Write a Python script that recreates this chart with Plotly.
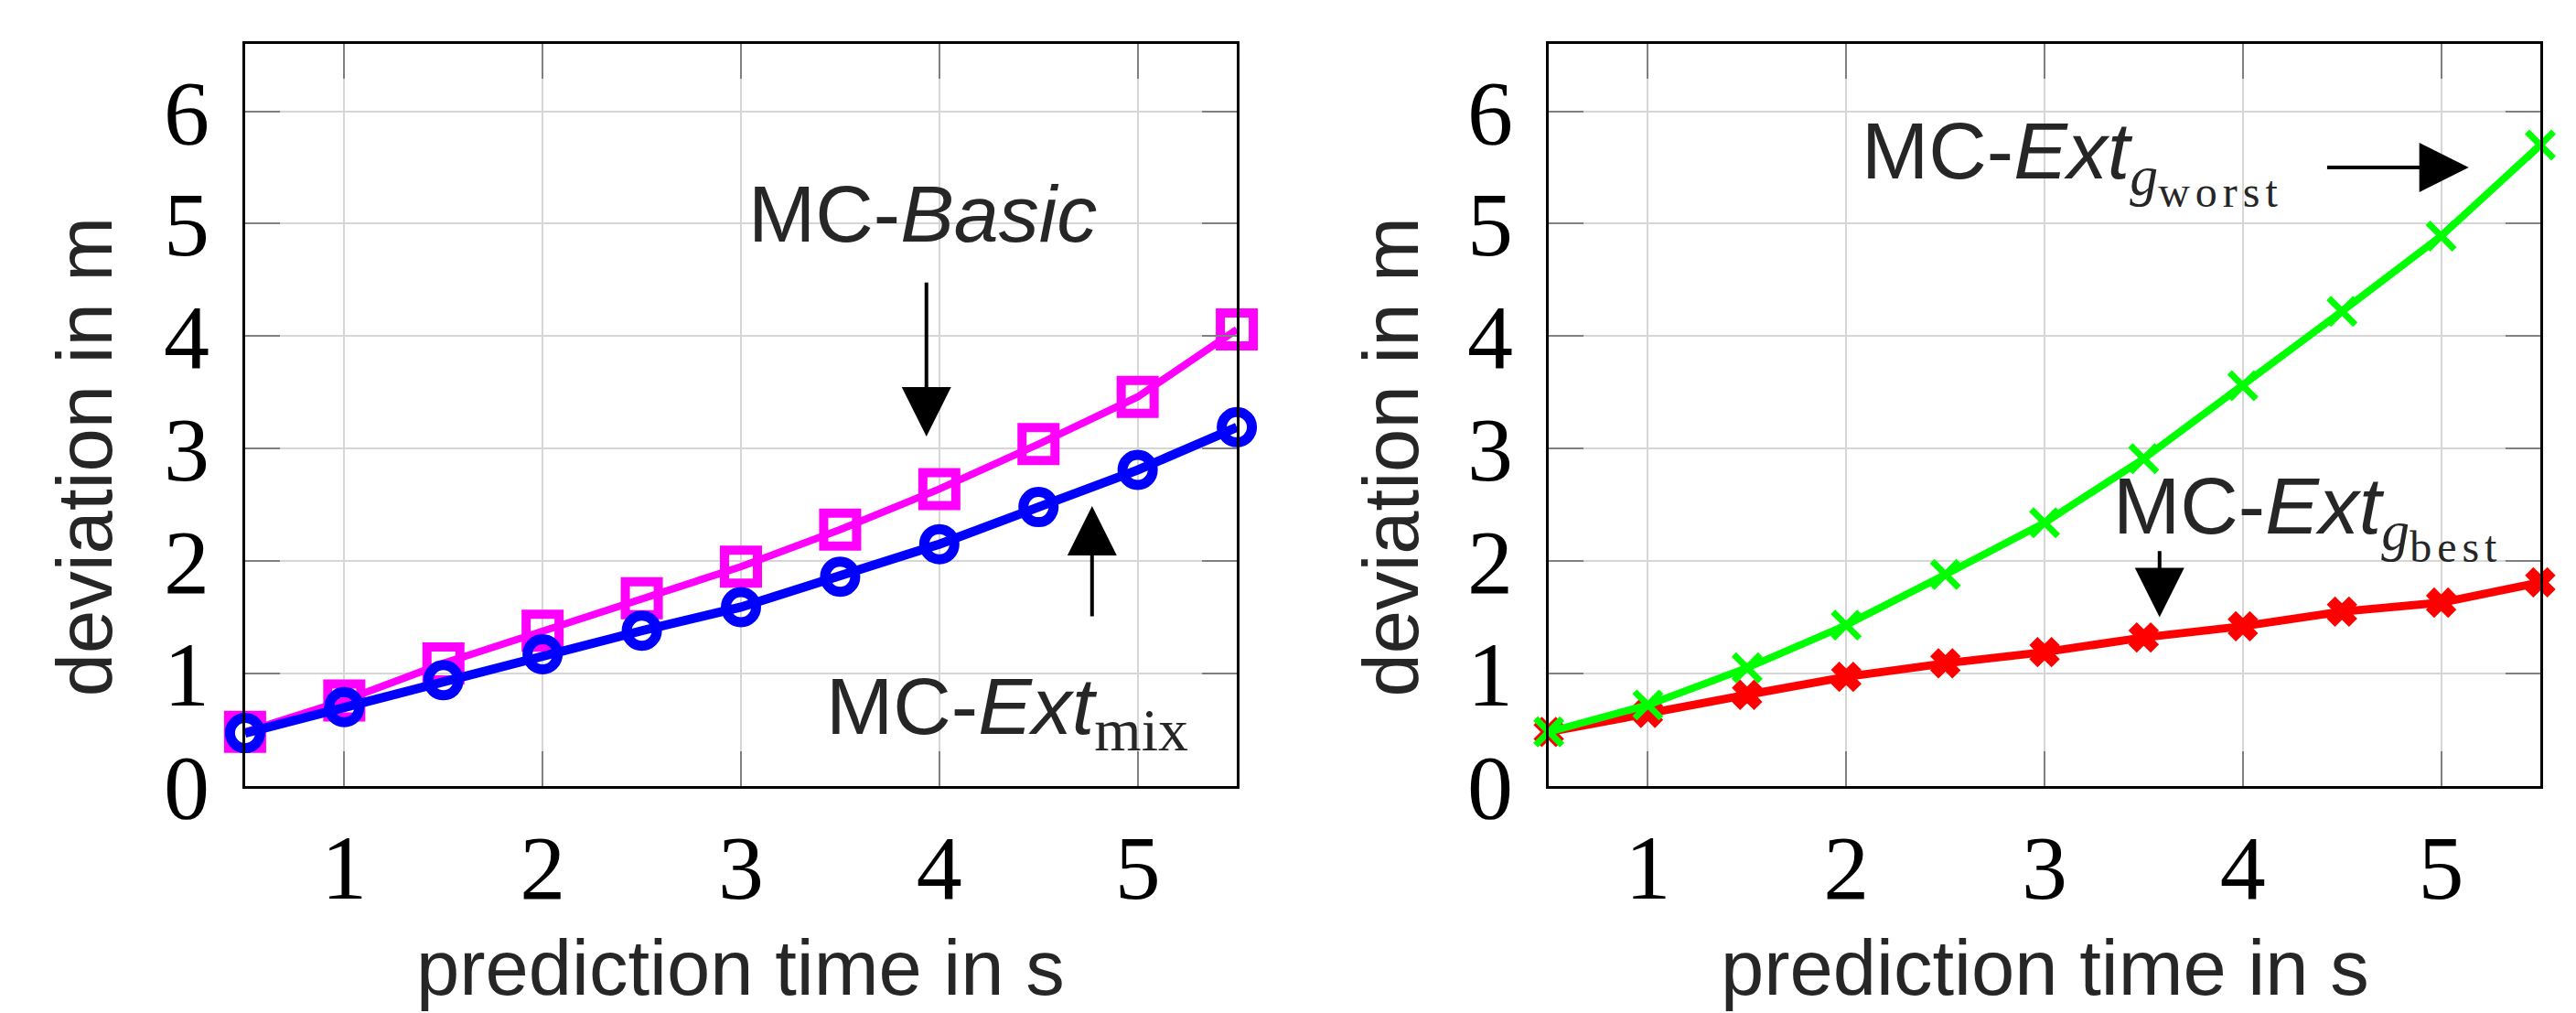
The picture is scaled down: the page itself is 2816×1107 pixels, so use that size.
import plotly.graph_objects as go

# ---------------- data ----------------
pred_time = [0.5, 1.0, 1.5, 2.0, 2.5, 3.0, 3.5, 4.0, 4.5, 5.0, 5.5]
mc_basic = [0.48, 0.76, 1.09, 1.38, 1.67, 1.95, 2.28, 2.64, 3.04, 3.46, 4.06]
mc_ext_mix = [0.47, 0.70, 0.94, 1.17, 1.38, 1.59, 1.86, 2.15, 2.48, 2.81, 3.19]
mc_ext_worst = [0.48, 0.72, 1.05, 1.43, 1.88, 2.34, 2.91, 3.56, 4.22, 4.89, 5.70]
mc_ext_best = [0.48, 0.65, 0.81, 0.97, 1.09, 1.19, 1.32, 1.42, 1.55, 1.63, 1.81]
x_ticks = [1, 2, 3, 4, 5]
y_ticks = [0, 1, 2, 3, 4, 5, 6]
x_title = "prediction time in s"
y_title = "deviation in m"

SANS = "Liberation Sans, Arial, Helvetica, sans-serif"
SERIF = "Liberation Serif, Times New Roman, serif"
TXT = "#262626"

fig = go.Figure()

# left panel
fig.add_trace(go.Scatter(x=pred_time, y=mc_basic, mode="lines+markers", xaxis="x", yaxis="y",
                         line=dict(color="#ff00ff", width=8),
                         marker=dict(symbol="square-open", size=36, color="#ff00ff",
                                     line=dict(width=10, color="#ff00ff")),
                         cliponaxis=False, showlegend=False))
fig.add_trace(go.Scatter(x=pred_time, y=mc_ext_mix, mode="lines+markers", xaxis="x", yaxis="y",
                         line=dict(color="#0000ff", width=10),
                         marker=dict(symbol="circle-open", size=33, color="#0000ff",
                                     line=dict(width=11, color="#0000ff")),
                         cliponaxis=False, showlegend=False))
# right panel
fig.add_trace(go.Scatter(x=pred_time, y=mc_ext_best, mode="lines+markers", xaxis="x2", yaxis="y2",
                         line=dict(color="#ff0000", width=9),
                         marker=dict(symbol="x", size=27, color="#ff0000",
                                     line=dict(width=2, color="#ff0000")),
                         cliponaxis=False, showlegend=False))
fig.add_trace(go.Scatter(x=pred_time, y=mc_ext_worst, mode="lines+markers", xaxis="x2", yaxis="y2",
                         line=dict(color="#00ff00", width=8),
                         marker=dict(symbol="x-thin-open", size=29, color="#00ff00",
                                     line=dict(width=7, color="#00ff00")),
                         cliponaxis=False, showlegend=False))

ax_common = dict(
    ticks="inside", ticklen=38, tickwidth=2, tickcolor="#808080",
    showgrid=True, gridcolor="#d6d6d6", gridwidth=2,
    showline=True, linecolor="black", linewidth=3, mirror="ticks",
    zeroline=False, tickfont=dict(family=SERIF, size=100, color="black"),
)

fig.update_layout(
    width=2816, height=1107,
    margin=dict(l=0, r=0, t=0, b=0),
    paper_bgcolor="white", plot_bgcolor="white",
    xaxis=dict(domain=[0.0923, 0.4773], range=[0.5, 5.5], tickvals=x_ticks,
               ticklabelstandoff=0, anchor="y", **ax_common),
    yaxis=dict(domain=[0.1897, 0.962], range=[0, 6.6], tickvals=y_ticks,
               ticklabelstandoff=16, anchor="x", **ax_common),
    xaxis2=dict(domain=[0.5984, 0.9833], range=[0.5, 5.5], tickvals=x_ticks,
                ticklabelstandoff=0, anchor="y2", **ax_common),
    yaxis2=dict(domain=[0.1897, 0.962], range=[0, 6.6], tickvals=y_ticks,
                ticklabelstandoff=16, anchor="x2", **ax_common),
)

annotations = []
# axis titles
for xc, yc_x in [(0.2848, 0.0298), (0.7909, 0.537)]:
    annotations.append(dict(xref="paper", yref="paper", x=xc, y=-0.047, yanchor="bottom",
                            xanchor="center", text=x_title, showarrow=False,
                            font=dict(family=SANS, size=85, color=TXT)))
    annotations.append(dict(xref="paper", yref="paper", x=yc_x, y=0.532, yanchor="middle",
                            xanchor="center", text=y_title, showarrow=False, textangle=-90,
                            font=dict(family=SANS, size=85, color=TXT)))

serif = "font-family:Liberation Serif"
small = "font-family:Liberation Serif;font-size:48px;letter-spacing:6px"
# left labels
annotations.append(dict(xref="x", yref="y", x=3.03, y=5.09, xanchor="left", yanchor="middle",
                        text="MC-<i>Basic</i>", showarrow=False,
                        font=dict(family=SANS, size=88, color=TXT)))
annotations.append(dict(xref="x", yref="y", x=3.42, y=0.66, xanchor="left", yanchor="middle",
                        text=f"MC-<i>Ext</i><sub><span style='{serif};font-size:66px'>mix</span></sub>",
                        showarrow=False, font=dict(family=SANS, size=88, color=TXT)))
# right labels
annotations.append(dict(xref="x2", yref="y2", x=2.07, y=5.56, xanchor="left", yanchor="middle",
                        text=f"MC-<i>Ext</i><sub><span style='{serif}'><i>g</i></span>"
                             f"<sub><span style='{small}'>worst</span></sub></sub>",
                        showarrow=False, font=dict(family=SANS, size=88, color=TXT)))
annotations.append(dict(xref="x2", yref="y2", x=3.335, y=2.40, xanchor="left", yanchor="middle",
                        text=f"MC-<i>Ext</i><sub><span style='{serif}'><i>g</i></span>"
                             f"<sub><span style='{small}'>best</span></sub></sub>",
                        showarrow=False, font=dict(family=SANS, size=88, color=TXT)))

# arrows (tip at x,y ; tail at ax,ay)
arrows = [
    ("x", "y", 3.935, 3.107, 3.935, 4.49),
    ("x", "y", 4.77, 2.49, 4.77, 1.496),
    ("x2", "y2", 5.139, 5.50, 4.418, 5.50),
    ("x2", "y2", 3.58, 1.50, 3.58, 2.10),
]
for xr, yr, xt, yt, xa, ya in arrows:
    annotations.append(dict(xref=xr, yref=yr, axref=xr, ayref=yr, x=xt, y=yt, ax=xa, ay=ya,
                            text="", showarrow=True, arrowhead=2, arrowsize=2.7,
                            arrowwidth=4, arrowcolor="black", standoff=0, startstandoff=0))

fig.update_layout(annotations=annotations)
fig.write_html("out.html")
